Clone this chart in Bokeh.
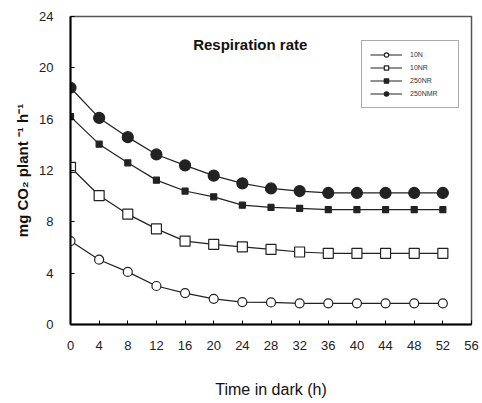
from bokeh.plotting import figure
from bokeh.models import Range1d, FixedTicker, Legend, LegendItem, Label
from bokeh.embed import file_html
from bokeh.resources import INLINE

hours = [0, 4, 8, 12, 16, 20, 24, 28, 32, 36, 40, 44, 48, 52]
s_10N = [6.5, 5.05, 4.1, 3.0, 2.45, 2.0, 1.75, 1.72, 1.65, 1.65, 1.65, 1.65, 1.65, 1.65]
s_10NR = [12.25, 10.05, 8.6, 7.45, 6.5, 6.25, 6.05, 5.85, 5.65, 5.55, 5.55, 5.55, 5.55, 5.55]
s_250NR = [16.2, 14.05, 12.6, 11.25, 10.4, 9.95, 9.3, 9.12, 9.05, 8.95, 8.95, 8.95, 8.95, 8.95]
s_250NMR = [18.45, 16.1, 14.6, 13.25, 12.4, 11.6, 11.0, 10.6, 10.4, 10.25, 10.25, 10.25, 10.25, 10.25]
series_names = ["10N", "10NR", "250NR", "250NMR"]
x_ticks = list(range(0, 57, 4))
y_ticks = list(range(0, 25, 4))

p = figure(width=482, height=400, output_backend="svg", toolbar_location=None,
           x_range=Range1d(0, 56), y_range=Range1d(0, 24),
           min_border_left=70, min_border_right=11, min_border_top=16, min_border_bottom=75)
p.background_fill_color = "white"
p.border_fill_color = "white"
p.outline_line_color = "#555555"
p.outline_line_width = 1.5
p.grid.visible = False

for ax in (p.xaxis[0], p.yaxis[0]):
    ax.axis_line_width = 2
    ax.axis_line_color = "black"
    ax.major_tick_in = 4
    ax.major_tick_out = 0
    ax.minor_tick_line_color = None
    ax.major_label_text_font = "Liberation Sans"
    ax.major_label_text_font_size = "13px"
    ax.major_label_text_color = "#222222"
    ax.axis_label_text_font = "Liberation Sans"
    ax.axis_label_text_color = "#111111"

p.xaxis.ticker = FixedTicker(ticks=x_ticks)
p.yaxis.ticker = FixedTicker(ticks=y_ticks)
p.xaxis.major_label_standoff = 16
p.yaxis.major_label_standoff = 17
p.xaxis.axis_label = "Time in dark (h)"
p.xaxis.axis_label_text_font_size = "16px"
p.xaxis.axis_label_text_font_style = "normal"
p.xaxis.axis_label_standoff = 28
p.yaxis.axis_label = "mg CO\u2082 plant \u207b\u00b9 h\u207b\u00b9"
p.yaxis.axis_label_text_font_size = "15px"
p.yaxis.axis_label_text_font_style = "bold"
p.yaxis.axis_label_standoff = 5

lc = "#222222"
items = []
specs = [
    (s_10N, "circle", 9, "white"),
    (s_10NR, "square", 10, "white"),
    (s_250NR, "square", 6, lc),
    (s_250NMR, "circle", 11, lc),
]
for name, (vals, mk, sz, fc) in zip(series_names, specs):
    l = p.line(hours, vals, line_color=lc, line_width=1.2)
    s = p.scatter(hours, vals, marker=mk, size=sz, fill_color=fc, line_color=lc, line_width=1.2)
    items.append(LegendItem(label=name, renderers=[l, s]))

leg = Legend(items=items, location=(291, 216), orientation="vertical",
             padding=8, spacing=2, glyph_width=32, glyph_height=11, label_height=11,
             label_width=40, label_standoff=8,
             label_text_font="Liberation Sans", label_text_font_size="7px",
             label_text_color="#333333",
             border_line_color="#555555", border_line_width=1.5,
             background_fill_color="white", background_fill_alpha=1.0)
p.add_layout(leg, "center")

title = Label(x=25.1, y=21.8, text="Respiration rate", text_align="center",
              text_baseline="middle", text_font="Liberation Sans",
              text_font_size="15px", text_font_style="bold", text_color="#111111")
p.add_layout(title)

open("out.html", "w").write(file_html(p, INLINE))
